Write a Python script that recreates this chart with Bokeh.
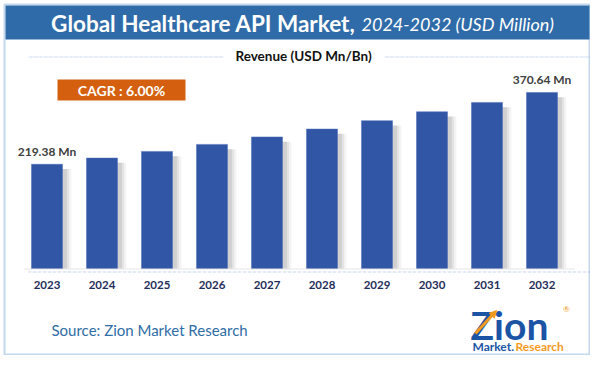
from bokeh.plotting import figure
from bokeh.models import Range1d, BoxAnnotation, Label, ColumnDataSource, Arrow, NormalHead
from bokeh.transform import dodge
from bokeh.core.properties import value
from bokeh.embed import file_html
from bokeh.resources import INLINE

# ---------------- data ----------------
years = [2023, 2024, 2025, 2026, 2027, 2028, 2029, 2030, 2031, 2032]
revenue = [219.38, 232.54, 246.50, 261.29, 276.96, 293.58, 311.19, 329.86, 349.66, 370.64]
year_labels = ["2023", "2024", "2025", "2026", "2027", "2028", "2029", "2030", "2031", "2032"]
labeled_years = [2023, 2032]
labeled_values = [219.38, 370.64]
value_labels = ["219.38 Mn", "370.64 Mn"]
title_main = "Global Healthcare API Market,"
title_sub = "2024-2032 (USD Million)"
subtitle = "Revenue (USD Mn/Bn)"
cagr_text = "CAGR : 6.00%"
source_text = "Source: Zion Market Research"

# ---------------- layout helpers ----------------
W, H = 590, 355
OFF = 1


def sx(rx):
    return min(rx - OFF, W - 1)


def sy(ry):
    return max(H - (ry - OFF), 1)


ppx = 55.0
x_start = years[0] - sx(47.5) / ppx
x_end = x_start + W / ppx
ppy = 0.475
y_start = -sy(269) / ppy
y_end = y_start + H / ppy

FONT = "Lato"


def box(l, r, t, b, **kw):
    return BoxAnnotation(left=sx(l), right=sx(r), top=sy(t), bottom=sy(b),
                         left_units="screen", right_units="screen",
                         bottom_units="screen", top_units="screen", **kw)


def label(x, y, text, **kw):
    return Label(x=sx(x), y=sy(y), x_units="screen", y_units="screen",
                 text=text, text_font=FONT, **kw)


p = figure(width=W, height=H, output_backend="svg", toolbar_location=None,
           x_range=Range1d(x_start, x_end), y_range=Range1d(y_start, y_end),
           x_axis_location=None, y_axis_location=None, min_border=0,
           outline_line_color=None, background_fill_color="white",
           border_fill_color="white")
p.grid.visible = False

bars = ColumnDataSource(dict(x=years, top=revenue, lab=year_labels, zero=[0] * len(years)))

# soft shadows on the right of each bar
for dx, a in [(0.16, 0.08), (0.12, 0.12), (0.08, 0.16)]:
    p.vbar(x=dodge("x", dx), top=dodge("top", -10), bottom=0, width=0.564,
           source=bars, fill_color="#6f6f6f", fill_alpha=a, line_color=None)

p.vbar(x="x", top="top", bottom=0, width=0.564, source=bars,
       fill_color="#3156a6", line_color="#4a6cb8", line_width=0.5)

# year labels
p.text(x="x", y="zero", text="lab", source=bars, text_font=value(FONT),
       text_font_size="11.5px", text_font_style="bold", text_color="#1f2d5b",
       text_align="center", text_baseline="middle", y_offset=16)

# value labels
vl = ColumnDataSource(dict(x=labeled_years, y=labeled_values, t=value_labels))
p.text(x="x", y="y", text="t", source=vl, text_font=value(FONT),
       text_font_size="12px", text_font_style="bold", text_color="#404040",
       text_align="center", text_baseline="bottom", y_offset=-5)

# axis base line & dashed line
p.add_layout(box(25, 575, 269.5, 269.5, fill_alpha=0, line_color="#d0d0d0", line_width=1))
p.add_layout(box(29, 595, 272.5, 272.5, fill_alpha=0, line_color="#8eaadb",
                 line_width=1, line_dash="3 2"))

# title band
p.add_layout(box(6, 599, 6, 40, fill_color="#2e6ba8", fill_alpha=1, line_color=None))
p.add_layout(label(356, 23.5, title_main, text_font_size="22.5px", text_font_style="bold",
                   text_color="white", text_align="right", text_baseline="middle"))
p.add_layout(label(362, 24, title_sub, text_font_size="18px", text_font_style="italic",
                   text_color="white", text_align="left", text_baseline="middle"))

# subtitle with dashed lines
p.add_layout(label(304, 56, subtitle, text_font_size="13.5px", text_font_style="bold",
                   text_color="#111111", text_align="center", text_baseline="middle"))
for l, r in [(29, 224), (385, 595)]:
    p.add_layout(box(l, r, 57.5, 57.5, fill_alpha=0, line_color="#8eaadb",
                     line_width=1, line_dash="3 2"))

# CAGR box
p.add_layout(box(58, 186, 80, 101, fill_color="#d4600f", fill_alpha=1, line_color=None))
p.add_layout(label(122, 90.5, cagr_text, text_font_size="14px", text_font_style="bold",
                   text_color="white", text_align="center", text_baseline="middle"))

# source
p.add_layout(label(52, 330, source_text, text_font_size="15px", text_color="#2f6da6",
                   text_align="left", text_baseline="middle"))

# logo
p.add_layout(label(471, 325, "Zion", text_font_size="39px", text_font_style="bold",
                   text_color="#1c54a5", text_align="left", text_baseline="middle"))
p.add_layout(Arrow(x_start=sx(476), y_start=sy(334), x_end=sx(497), y_end=sy(311),
                   start_units="screen", end_units="screen",
                   line_color="#f39a1e", line_width=3,
                   end=NormalHead(size=7, fill_color="#f39a1e", line_color="#f39a1e")))
p.add_layout(label(473, 347, "Market.", text_font_size="12px", text_font_style="bold",
                   text_color="#1c54a5", text_align="left", text_baseline="middle"))
p.add_layout(label(516, 347, "Research", text_font_size="12px", text_font_style="bold",
                   text_color="#f39a1e", text_align="left", text_baseline="middle"))
p.add_layout(label(567, 309, "®", text_font_size="8px", text_color="#f39a1e",
                   text_align="center", text_baseline="middle"))

# outer frame
p.add_layout(box(5, 599, 5, 362, fill_alpha=0, line_color="#3b7dc4", line_width=2))

open("out.html", "w").write(file_html(p, INLINE))
